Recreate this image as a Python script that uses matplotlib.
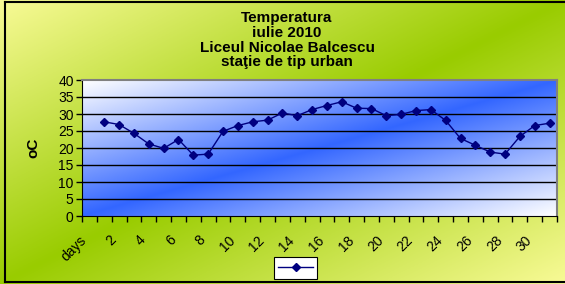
import numpy as np
import matplotlib
matplotlib.use("Agg")
import matplotlib.pyplot as plt
from matplotlib.lines import Line2D
from matplotlib.transforms import ScaledTranslation, blended_transform_factory

plt.rcParams['font.family'] = ['Liberation Sans', 'DejaVu Sans']

categories = ["days"] + [str(d) for d in range(1, 32)]
temps = [None, 27.7, 26.9, 24.3, 21.2, 19.9, 22.5, 17.9, 18.2, 24.9, 26.6,
         27.7, 28.2, 30.3, 29.5, 31.3, 32.5, 33.6, 31.7, 31.6, 29.5,
         29.9, 31.0, 31.3, 28.1, 22.8, 20.8, 18.8, 18.2, 23.4, 26.6, 27.3]
title_lines = ["Temperatura", "iulie 2010", "Liceul Nicolae Balcescu", "staţie de tip urban"]
ylabel = "oC"

W, H = 565, 284
fig = plt.figure(figsize=(W / 100, H / 100), dpi=100)

def diag_gradient(c_edge, c_mid, nx=300, ny=150):
    xx, yy = np.meshgrid(np.linspace(0, 1, nx), np.linspace(0, 1, ny))
    t = (xx + yy) / 2.0
    w = np.abs(2 * t - 1)[..., None]
    ce = np.array(c_edge) / 255.0
    cm = np.array(c_mid) / 255.0
    return w * ce + (1 - w) * cm

# figure background
bg = fig.add_axes([0, 0, 1, 1], zorder=-10)
bg.imshow(diag_gradient((248, 250, 150), (153, 204, 0)), aspect='auto',
          extent=[0, 1, 0, 1], origin='upper')
bg.set_xlim(0, 1); bg.set_ylim(0, 1)
bg.axis('off')
bg.plot([4.5 / W, 4.5 / W], [2 / H, 1 - 1.5 / H], color='black', lw=1.5)
bg.plot([4.5 / W, 1], [1 - 1.5 / H, 1 - 1.5 / H], color='black', lw=1.5)
bg.plot([4.5 / W, 1], [2 / H, 2 / H], color='black', lw=1.5)

x0, x1, yt, yb = 82, 557, 80, 216
ax = fig.add_axes([x0 / W, 1 - yb / H, (x1 - x0) / W, (yb - yt) / H])
n = len(categories)
ax.imshow(diag_gradient((255, 255, 255), (51, 102, 255)), aspect='auto',
          extent=[-0.5, n - 0.5, 0, 40], origin='upper', zorder=0)
ax.set_xlim(-0.5, n - 0.5)
ax.set_ylim(0, 40)

for v in range(5, 40, 5):
    ax.axhline(v, color='black', lw=1.0, zorder=1)

xs = [i for i, v in enumerate(temps) if v is not None]
ys = [v for v in temps if v is not None]
ax.plot(xs, ys, color='#000080', lw=1.0, marker='D', markersize=4.5,
        markerfacecolor='#000080', markeredgecolor='#000080', zorder=3)

ax.set_yticks(range(0, 41, 5))
ax.tick_params(axis='y', direction='out', length=4, width=1, labelsize=10, pad=2)

# category ticks: marks at boundaries, labels every second category
ax.set_xticks(np.arange(-0.5, n, 1))
ax.set_xticklabels([])
ax.tick_params(axis='x', direction='out', length=4, width=1)
trans = blended_transform_factory(ax.transData, ax.transAxes) + \
    ScaledTranslation(-10 / 100, -17 / 100, fig.dpi_scale_trans)
for i in range(0, n, 2):
    ax.text(i, 0, categories[i], transform=trans, rotation=45,
            ha='right', va='top', rotation_mode='anchor', fontsize=10,
            clip_on=False)

for s in ['top', 'right']:
    ax.spines[s].set_color('#808080')
    ax.spines[s].set_linewidth(1.5)
ax.spines['left'].set_color('black')
ax.spines['bottom'].set_color('black')

ax.set_ylabel(ylabel, fontsize=11, fontweight='bold', labelpad=13)

fig.text(287 / W, 1 - 11 / H, "\n".join(title_lines), ha='center', va='top',
         fontsize=11, fontweight='bold', linespacing=1.07)

handle = Line2D([], [], color='#000080', lw=1.0, marker='D', markersize=4.5,
                markerfacecolor='#000080')
leg = fig.legend([handle], [""], loc='center', bbox_to_anchor=(295.5 / W, 1 - 268 / H),
                 frameon=True, fancybox=False, edgecolor='black', framealpha=1,
                 handlelength=2.5, handletextpad=0, borderpad=0.3)
leg.get_frame().set_linewidth(0.8)

fig.savefig("out.png", dpi=100)
